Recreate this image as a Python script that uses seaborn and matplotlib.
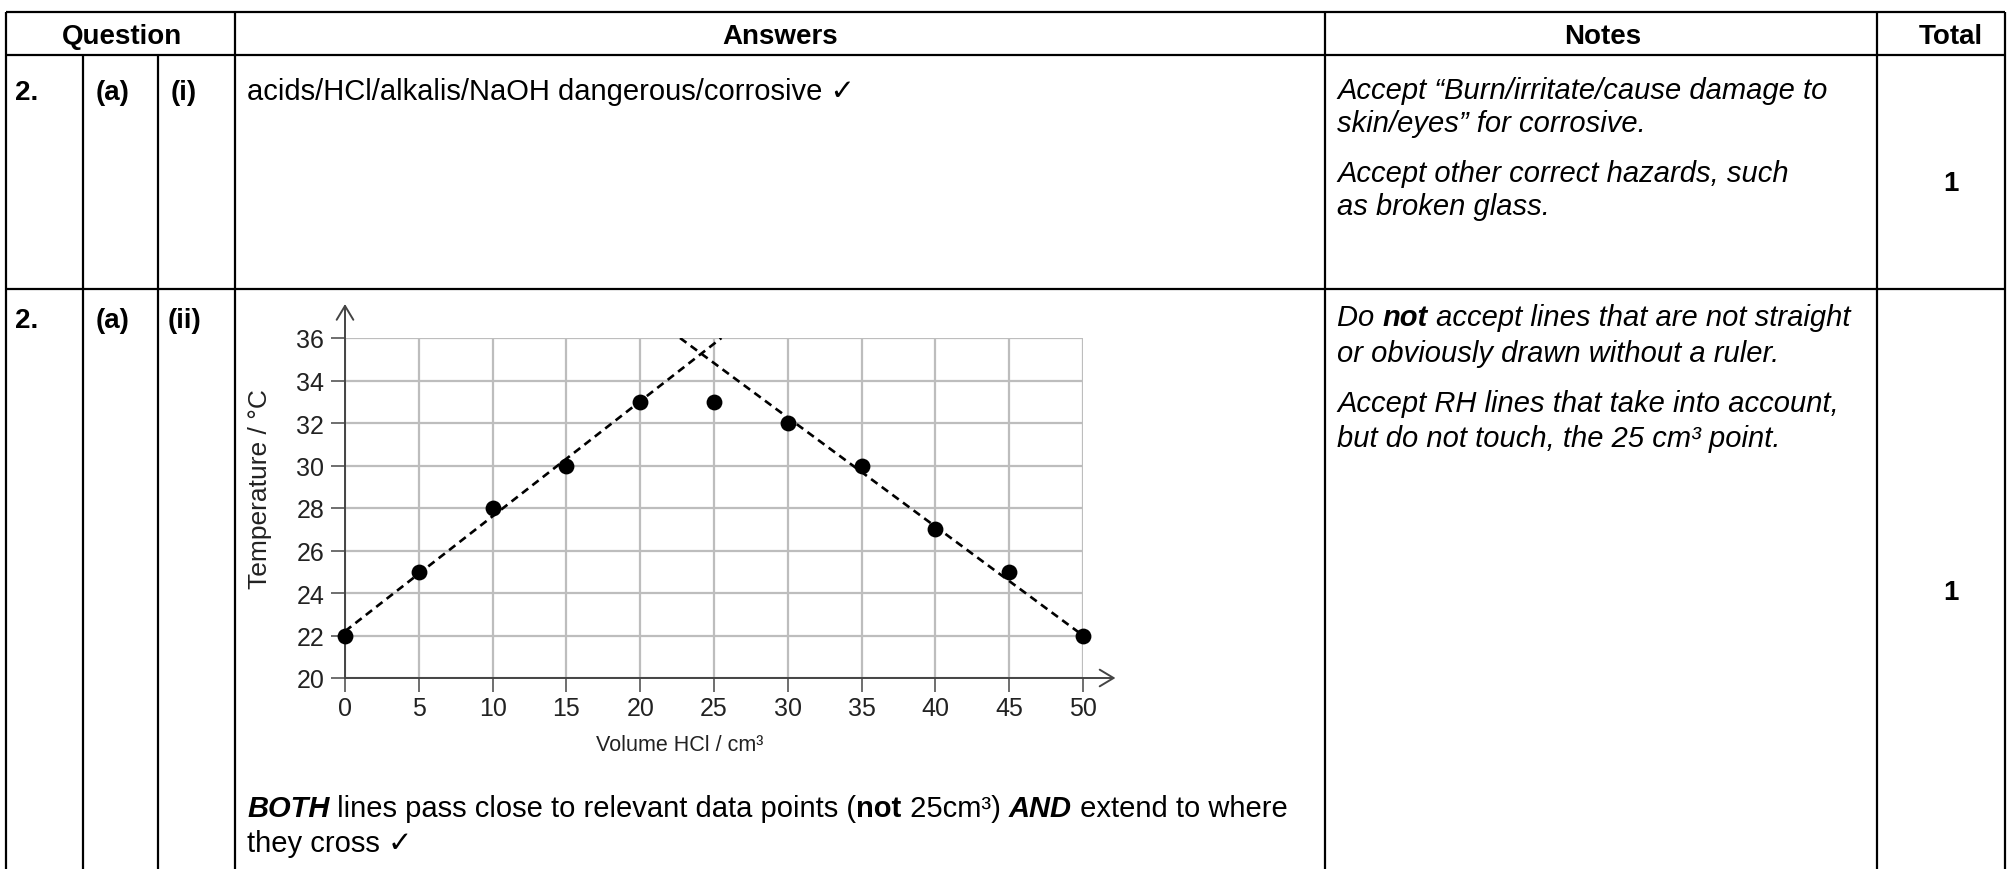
import matplotlib
matplotlib.use("Agg")
import matplotlib.pyplot as plt
import seaborn as sns

# data
volume = [0, 5, 10, 15, 20, 25, 30, 35, 40, 45, 50]
temperature = [22, 25, 28, 30, 33, 33, 32, 30, 27, 25, 22]

# the two ruled best-fit lines (end points)
left_fit_x = [0, 25.5]
left_fit_y = [22.2, 36]
right_fit_x = [22.7, 50]
right_fit_y = [36, 22]

x_ticks = list(range(0, 51, 5))
y_ticks = list(range(20, 37, 2))

header_labels = ["Question", "Answers", "Notes", "Total"]
row1_answer = "acids/HCl/alkalis/NaOH dangerous/corrosive \u2713"
row1_notes = ["Accept \u201cBurn/irritate/cause damage to", "skin/eyes\u201d for corrosive.",
              "Accept other correct hazards, such", "as broken glass."]
marks = ["1", "1"]

sns.set_style("white")
plt.rcParams["font.family"] = ["Liberation Sans", "DejaVu Sans"]

W, H = 2009, 870
fig = plt.figure(figsize=(W / 100, H / 100), dpi=100)
bg = fig.add_axes([0, 0, 1, 1])
bg.set_xlim(0, W)
bg.set_ylim(H, 0)
bg.axis("off")

FS = 21
BFS = 20
renderer = fig.canvas.get_renderer()


def runs(x, y, parts, size=FS):
    # draw text pieces one after another on a shared baseline
    for txt, weight, style in parts:
        t = bg.text(x, y, txt, fontsize=size, fontweight=weight, fontstyle=style,
                    ha="left", va="baseline", color="black")
        x += t.get_window_extent(renderer=renderer).width
    return x


def put(x, y, txt, weight="normal", style="normal", ha="left", size=FS):
    bg.text(x, y, txt, fontsize=size, fontweight=weight, fontstyle=style,
            ha=ha, va="baseline", color="black")


# table lines
cols = [6, 83, 158, 235, 1325, 1877, 2005]
lw = 1.6
bg.hlines([13, 56, 290], cols[0], cols[-1], color="black", lw=lw)
for i, cx in enumerate(cols):
    top = 56 if i in (1, 2) else 13
    bg.vlines(cx, top, H, color="black", lw=lw)

# header row
put(122, 44, header_labels[0], weight="bold", ha="center", size=BFS)
put(780, 44, header_labels[1], weight="bold", ha="center", size=BFS)
put(1603, 44, header_labels[2], weight="bold", ha="center", size=BFS)
put(1951, 44, header_labels[3], weight="bold", ha="center", size=BFS)

# row 1
put(15, 100, "2.", weight="bold", size=BFS)
put(96, 100, "(a)", weight="bold", size=BFS)
put(171, 100, "(i)", weight="bold", size=BFS)
put(247, 100, row1_answer)
for yy, line in zip([99, 132, 182, 215], row1_notes):
    put(1337, yy, line, style="italic")
put(1951, 191, marks[0], weight="bold", ha="center", size=BFS)

# row 2
put(15, 328, "2.", weight="bold", size=BFS)
put(96, 328, "(a)", weight="bold", size=BFS)
put(168, 328, "(ii)", weight="bold", size=BFS)
runs(1337, 326, [("Do ", "normal", "italic"), ("not", "bold", "italic"),
                 (" accept lines that are not straight", "normal", "italic")])
put(1337, 362, "or obviously drawn without a ruler.", style="italic")
put(1337, 412, "Accept RH lines that take into account,", style="italic")
put(1337, 447, "but do not touch, the 25 cm\u00b3 point.", style="italic")
put(1951, 600, marks[1], weight="bold", ha="center", size=BFS)

runs(247, 817, [("BOTH", "bold", "italic"),
                (" lines pass close to relevant data points (", "normal", "normal"),
                ("not", "bold", "normal"), (" 25cm\u00b3) ", "normal", "normal"),
                ("AND", "bold", "italic"), (" extend to where", "normal", "normal")])
put(247, 852, "they cross \u2713")

# embedded graph
x0, x1, y_top, y_bot = 345, 1083, 339, 679
ax = fig.add_axes([x0 / W, (H - y_bot) / H, (x1 - x0) / W, (y_bot - y_top) / H])
ax.set_xlim(0, 50)
ax.set_ylim(20, 36)
ax.set_xticks(x_ticks)
ax.set_yticks(y_ticks)
ax.set_axisbelow(True)
ax.grid(True, color="#bdbdbd", lw=1.6)
for s in ax.spines.values():
    s.set_visible(False)
ax.set_facecolor("none")
ax.tick_params(length=10, width=1.2, color="#555555", labelsize=18,
               labelcolor="#222222", bottom=True, left=True)
ax.tick_params(axis="x", pad=3)
ax.tick_params(axis="y", pad=5)

arrow = dict(arrowstyle="->,head_length=0.5,head_width=0.3", color="#444444",
             lw=1.4, shrinkA=0, shrinkB=0, mutation_scale=20)
ax.annotate("", xy=(0, 37.6), xytext=(0, 20), xycoords="data", arrowprops=arrow,
            annotation_clip=False)
ax.annotate("", xy=(52.2, 20), xytext=(0, 20), xycoords="data", arrowprops=arrow,
            annotation_clip=False)

dash = (0, (3.0, 2.0))
sns.lineplot(x=left_fit_x, y=left_fit_y, ax=ax, color="black", lw=1.9,
             linestyle=dash, zorder=3)
sns.lineplot(x=right_fit_x, y=right_fit_y, ax=ax, color="black", lw=1.9,
             linestyle=dash, zorder=3)
sns.scatterplot(x=volume, y=temperature, ax=ax, color="black", s=130,
                linewidth=0, zorder=4, legend=False, clip_on=False)

ax.set_xlabel("Volume HCl / cm\u00b3", fontsize=15.5, color="#222222", va="center")
ax.xaxis.set_label_coords((680 - x0) / (x1 - x0), (y_bot - 746) / (y_bot - y_top))
ax.set_ylabel("Temperature / \u00b0C", fontsize=19, color="#222222", va="center")
ax.yaxis.set_label_coords((260 - x0) / (x1 - x0), (y_bot - 489) / (y_bot - y_top))

fig.savefig("out.png", dpi=100)
